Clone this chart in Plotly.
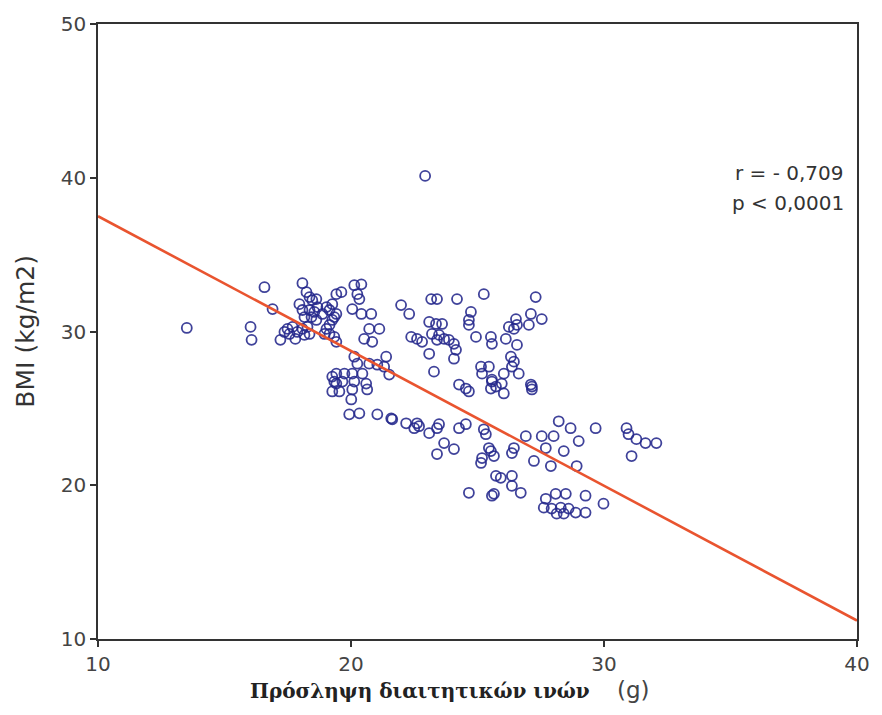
import plotly.graph_objects as go

# Dietary fibre intake (g) and BMI (kg/m2) per participant
fibre_g = [
    13.51, 16.03, 16.07, 16.58, 16.90, 17.21,
    17.37, 17.49, 17.69, 17.57, 17.80, 17.88, 18.08, 18.16, 18.36, 18.28,
    18.08, 18.24, 18.36, 18.47, 18.63, 18.67, 18.55, 18.36, 18.08, 17.96,
    18.16, 18.44, 18.63, 18.87, 19.03, 19.15, 19.26, 19.42, 19.42, 19.26,
    19.15, 19.03, 18.95, 19.15, 19.34, 19.42, 19.26, 19.42, 19.26,
    19.62, 20.13, 20.41, 20.33, 20.25, 20.05, 20.41, 20.80, 20.72, 21.12,
    20.52, 20.84, 19.34, 21.98, 22.30, 23.17, 23.40, 24.19, 25.25, 24.74,
    24.66, 24.66, 24.94, 22.38, 22.61, 22.81, 23.09, 23.36, 23.60, 23.20,
    23.48, 23.68, 23.40, 23.87, 24.07, 24.15, 23.09, 24.07, 23.28, 25.53,
    25.57, 25.14, 25.45, 25.18, 25.57, 25.73, 24.27, 24.54, 24.66, 20.13,
    20.25, 20.72, 21.04, 21.39, 21.31, 21.51, 19.42, 19.74, 20.05, 20.45,
    19.34, 19.66, 20.13, 20.60, 19.54, 20.05, 20.64,
    20.01, 19.93, 20.33, 21.04, 21.59, 21.63, 22.18, 22.61, 22.69, 22.50,
    23.09, 23.48, 23.40, 23.68, 24.07, 23.40, 24.27, 24.54, 25.25, 25.33,
    25.45, 25.18, 25.14, 25.53, 24.66, 25.57, 25.73,
    26.04, 27.15, 25.65, 28.21, 28.68, 29.00, 29.67, 30.89, 30.97, 31.28,
    31.64, 32.07, 31.09, 26.91, 27.54, 28.01, 26.44, 26.36, 27.70, 28.41,
    27.23, 27.90, 28.92, 25.92, 26.36, 26.36, 26.71, 25.65, 28.09, 28.49,
    29.27, 29.98, 27.62, 27.93, 28.29, 28.60, 28.88, 29.27, 28.13, 28.41,
    27.70, 25.53,
    27.30, 27.11, 27.54, 27.03, 26.52, 26.24, 26.44, 26.56, 26.12, 26.56,
    26.32, 26.44, 26.36, 26.04, 26.63, 25.57, 25.96, 27.15, 27.11,
    22.93,
]
bmi = [
    30.23, 30.30, 29.46, 32.88, 31.46, 29.46,
    29.97, 30.17, 30.30, 29.84, 29.52, 29.97, 30.17, 29.78, 29.84, 30.30,
    33.14, 32.56, 32.24, 32.04, 32.11, 31.59, 31.27, 31.40, 31.40, 31.78,
    30.94, 30.94, 30.75, 31.14, 31.59, 31.40, 31.78, 32.43, 31.14, 30.75,
    30.43, 30.17, 29.84, 29.84, 29.65, 29.33, 27.07, 26.61, 26.10,
    32.56, 33.01, 33.07, 32.11, 32.43, 31.46, 31.14, 31.14, 30.17, 30.17,
    29.52, 29.33, 30.94, 31.72, 31.14, 32.11, 32.11, 32.11, 32.43, 31.27,
    30.75, 30.43, 29.65, 29.65, 29.52, 29.33, 30.62, 30.49, 30.49, 29.84,
    29.78, 29.52, 29.46, 29.46, 29.20, 28.81, 28.55, 28.23, 27.39, 29.65,
    29.20, 27.71, 27.71, 27.26, 26.74, 26.42, 26.55, 26.29, 26.10, 28.36,
    27.91, 27.91, 27.84, 28.36, 27.71, 27.20, 27.26, 27.26, 27.26, 27.26,
    26.74, 26.74, 26.74, 26.61, 26.10, 26.23, 26.23,
    25.58, 24.61, 24.68, 24.61, 24.35, 24.29, 24.03, 24.03, 23.84, 23.71,
    23.39, 23.97, 23.71, 22.74, 22.35, 22.03, 23.71, 23.97, 23.64, 23.32,
    22.42, 21.77, 21.45, 22.22, 19.51, 19.32, 20.61,
    25.97, 26.23, 21.90, 24.16, 23.71, 22.87, 23.71, 23.71, 23.32, 23.00,
    22.74, 22.74, 21.90, 23.19, 23.19, 23.19, 22.42, 22.09, 22.42, 22.22,
    21.58, 21.25, 21.25, 20.48, 20.61, 19.96, 19.51, 19.44, 19.44, 19.44,
    19.32, 18.80, 18.54, 18.48, 18.54, 18.48, 18.22, 18.22, 18.15, 18.15,
    19.12, 26.29,
    32.24, 31.14, 30.81, 30.43, 30.81, 30.30, 30.17, 30.43, 29.52, 29.13,
    28.36, 28.04, 27.71, 27.26, 27.26, 26.87, 26.61, 26.42, 26.55,
    40.12,
]

# Fitted regression line, evaluated at the ends of the x axis
fit_x = [10, 40]
fit_y = [37.5, 11.2]

x_ticks = [10, 20, 30, 40]
y_ticks = [10, 20, 30, 40, 50]

stat_lines = ["r = - 0,709", "p < 0,0001"]

fig = go.Figure()

fig.add_trace(go.Scatter(
    x=fibre_g, y=bmi, mode="markers",
    marker=dict(symbol="circle-open", size=10,
                color="rgba(36,40,140,0.88)",
                line=dict(width=1.8, color="rgba(36,40,140,0.88)")),
    showlegend=False, hoverinfo="x+y",
))

fig.add_trace(go.Scatter(
    x=fit_x, y=fit_y, mode="lines",
    line=dict(color="#e9542f", width=2.6),
    showlegend=False, hoverinfo="skip",
))

axis_font = dict(family="DejaVu Sans", size=20, color="#444444")

fig.update_xaxes(
    range=[10, 40], tickvals=x_ticks, ticktext=[str(v) for v in x_ticks],
    showline=True, mirror=True, linecolor="#333333", linewidth=1.5,
    ticks="outside", ticklen=6, tickwidth=1.5, tickcolor="#333333",
    showgrid=False, zeroline=False, tickfont=axis_font,
)
fig.update_yaxes(
    range=[10, 50], tickvals=y_ticks, ticktext=[str(v) for v in y_ticks],
    showline=True, mirror=True, linecolor="#333333", linewidth=1.5,
    ticks="outside", ticklen=6, tickwidth=1.5, tickcolor="#333333",
    showgrid=False, zeroline=False, tickfont=axis_font,
)

annotations = [
    dict(text=stat_lines[0], x=0.985, y=0.758, xanchor="right", yanchor="middle"),
    dict(text=stat_lines[1], x=0.985, y=0.709, xanchor="right", yanchor="middle"),
]
for a in annotations:
    a.update(xref="paper", yref="paper", showarrow=False,
             font=dict(family="DejaVu Sans", size=20, color="#333333"))

# y-axis title, rotated
annotations.append(dict(
    text="BMI (kg/m2)", xref="paper", yref="paper",
    x=-0.096, y=0.5, xanchor="center", yanchor="middle", textangle=-90,
    showarrow=False,
    font=dict(family="DejaVu Sans", size=25, color="#333333"),
))

# x-axis title: Greek label in bold serif followed by the unit in sans
annotations.append(dict(
    text="<b>Πρόσληψη διαιτητικών ινών</b>", xref="paper", yref="paper",
    x=0.197, y=-0.085, xanchor="left", yanchor="middle", showarrow=False,
    font=dict(family="DejaVu Serif", size=20, color="#222222"),
))
annotations.append(dict(
    text="(g)", xref="paper", yref="paper",
    x=0.706, y=-0.083, xanchor="center", yanchor="middle", showarrow=False,
    font=dict(family="DejaVu Sans", size=23, color="#444444"),
))

fig.update_layout(
    width=882, height=715,
    margin=dict(l=98, r=22, t=20, b=76),
    paper_bgcolor="white", plot_bgcolor="white",
    annotations=annotations,
)

fig.write_html("out.html")
